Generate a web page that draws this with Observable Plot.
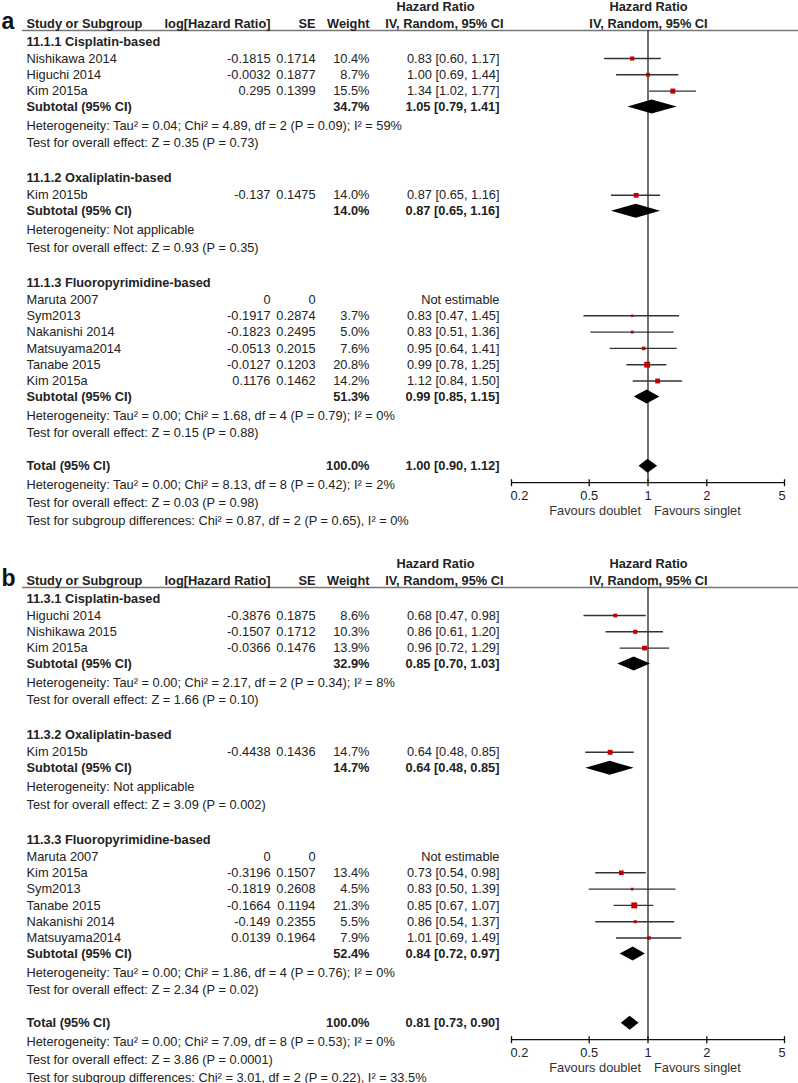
<!DOCTYPE html>
<html><head><meta charset="utf-8">
<script src="https://cdn.jsdelivr.net/npm/d3@7"></script>
<script src="https://cdn.jsdelivr.net/npm/@observablehq/plot@0.6"></script>
<style>body{margin:0;background:#fff}#c svg{display:block}</style>
</head><body><div id="c"></div>
<script>
// ---------- Panel a ----------
const a_groups = ["11.1.1 Cisplatin-based", "11.1.2 Oxaliplatin-based", "11.1.3 Fluoropyrimidine-based"];
const a_study  = ["Nishikawa 2014", "Higuchi 2014", "Kim 2015a", "Kim 2015b", "Maruta 2007", "Sym2013", "Nakanishi 2014", "Matsuyama2014", "Tanabe 2015", "Kim 2015a"];
const a_group  = [0, 0, 0, 1, 2, 2, 2, 2, 2, 2];
const a_loghr  = [-0.1815, -0.0032, 0.295, -0.137, 0, -0.1917, -0.1823, -0.0513, -0.0127, 0.1176];
const a_se     = [0.1714, 0.1877, 0.1399, 0.1475, 0, 0.2874, 0.2495, 0.2015, 0.1203, 0.1462];
const a_weight = [10.4, 8.7, 15.5, 14.0, null, 3.7, 5.0, 7.6, 20.8, 14.2];
const a_hr     = [0.83, 1.00, 1.34, 0.87, null, 0.83, 0.83, 0.95, 0.99, 1.12];
const a_lo     = [0.60, 0.69, 1.02, 0.65, null, 0.47, 0.51, 0.64, 0.78, 0.84];
const a_hi     = [1.17, 1.44, 1.77, 1.16, null, 1.45, 1.36, 1.41, 1.25, 1.50];
const a_subWeight = [34.7, 14.0, 51.3];
const a_subHr     = [1.05, 0.87, 0.99];
const a_subLo     = [0.79, 0.65, 0.85];
const a_subHi     = [1.41, 1.16, 1.15];
const a_het  = ["Heterogeneity: Tau² = 0.04; Chi² = 4.89, df = 2 (P = 0.09); I² = 59%",
                "Heterogeneity: Not applicable",
                "Heterogeneity: Tau² = 0.00; Chi² = 1.68, df = 4 (P = 0.79); I² = 0%"];
const a_test = ["Test for overall effect: Z = 0.35 (P = 0.73)",
                "Test for overall effect: Z = 0.93 (P = 0.35)",
                "Test for overall effect: Z = 0.15 (P = 0.88)"];
const a_total  = [100.0, 1.00, 0.90, 1.12]; // weight, HR, lower, upper
const a_footer = ["Heterogeneity: Tau² = 0.00; Chi² = 8.13, df = 8 (P = 0.42); I² = 2%",
                  "Test for overall effect: Z = 0.03 (P = 0.98)",
                  "Test for subgroup differences: Chi² = 0.87, df = 2 (P = 0.65), I² = 0%"];

// ---------- Panel b ----------
const b_groups = ["11.3.1 Cisplatin-based", "11.3.2 Oxaliplatin-based", "11.3.3 Fluoropyrimidine-based"];
const b_study  = ["Higuchi 2014", "Nishikawa 2015", "Kim 2015a", "Kim 2015b", "Maruta 2007", "Kim 2015a", "Sym2013", "Tanabe 2015", "Nakanishi 2014", "Matsuyama2014"];
const b_group  = [0, 0, 0, 1, 2, 2, 2, 2, 2, 2];
const b_loghr  = [-0.3876, -0.1507, -0.0366, -0.4438, 0, -0.3196, -0.1819, -0.1664, -0.149, 0.0139];
const b_se     = [0.1875, 0.1712, 0.1476, 0.1436, 0, 0.1507, 0.2608, 0.1194, 0.2355, 0.1964];
const b_weight = [8.6, 10.3, 13.9, 14.7, null, 13.4, 4.5, 21.3, 5.5, 7.9];
const b_hr     = [0.68, 0.86, 0.96, 0.64, null, 0.73, 0.83, 0.85, 0.86, 1.01];
const b_lo     = [0.47, 0.61, 0.72, 0.48, null, 0.54, 0.50, 0.67, 0.54, 0.69];
const b_hi     = [0.98, 1.20, 1.29, 0.85, null, 0.98, 1.39, 1.07, 1.37, 1.49];
const b_subWeight = [32.9, 14.7, 52.4];
const b_subHr     = [0.85, 0.64, 0.84];
const b_subLo     = [0.70, 0.48, 0.72];
const b_subHi     = [1.03, 0.85, 0.97];
const b_het  = ["Heterogeneity: Tau² = 0.00; Chi² = 2.17, df = 2 (P = 0.34); I² = 8%",
                "Heterogeneity: Not applicable",
                "Heterogeneity: Tau² = 0.00; Chi² = 1.86, df = 4 (P = 0.76); I² = 0%"];
const b_test = ["Test for overall effect: Z = 1.66 (P = 0.10)",
                "Test for overall effect: Z = 3.09 (P = 0.002)",
                "Test for overall effect: Z = 2.34 (P = 0.02)"];
const b_total  = [100.0, 0.81, 0.73, 0.90];
const b_footer = ["Heterogeneity: Tau² = 0.00; Chi² = 7.09, df = 8 (P = 0.53); I² = 0%",
                  "Test for overall effect: Z = 3.86 (P = 0.0001)",
                  "Test for subgroup differences: Chi² = 3.01, df = 2 (P = 0.22), I² = 33.5%"];

// ---------- shared labels ----------
const colHeaders = ["Study or Subgroup", "log[Hazard Ratio]", "SE", "Weight", "IV, Random, 95% CI"];
const hrHeader = "Hazard Ratio";
const xTicks = [0.2, 0.5, 1, 2, 5];
const favours = ["Favours doublet", "Favours singlet"];
const subtotalLabel = "Subtotal (95% CI)";
const totalLabel = "Total (95% CI)";
const notEstimable = "Not estimable";

const FONT = "'Liberation Sans', Arial, Helvetica, sans-serif";
const FS = 12.8;
const INK = "#222";
const ML = 22;

const COLS = {
  label: {px: 1, anchor: "start"},
  name: {px: 26, anchor: "start"},
  loghr: {px: 270, anchor: "end"},
  se: {px: 315, anchor: "end"},
  weight: {px: 369, anchor: "end"},
  ci: {px: 499, anchor: "end"},
  cihead: {px: 503, anchor: "end"},
  hrhead: {px: 435, anchor: "middle"},
  plothead: {px: 648, anchor: "middle"}
};

const f2 = v => v.toFixed(2);
const ciText = (h, l, u) => `${f2(h)} [${f2(l)}, ${f2(u)}]`;

function panel(label, D, height) {
  const T = [];
  const add = (col, t, y, b = false) => T.push({col, t, y, b});
  const Y_H1 = 6, Y_H2 = 23, Y_RULE = 30;
  add("hrhead", hrHeader, Y_H1, true);
  add("plothead", hrHeader, Y_H1, true);
  add("name", colHeaders[0], Y_H2, true);
  add("loghr", colHeaders[1], Y_H2, true);
  add("se", colHeaders[2], Y_H2, true);
  add("weight", colHeaders[3], Y_H2, true);
  add("cihead", colHeaders[4], Y_H2, true);
  add("plothead", colHeaders[4], Y_H2, true);

  const studies = [], summaries = [];
  let y = 41;
  D.groups.forEach((g, gi) => {
    add("name", g, y, true);
    y += 17;
    let first = true;
    D.study.forEach((s, i) => {
      if (D.group[i] !== gi) return;
      if (!first) y += 16.3;
      first = false;
      add("name", s, y);
      add("loghr", String(D.loghr[i]), y);
      add("se", String(D.se[i]), y);
      if (D.weight[i] != null) {
        add("weight", D.weight[i].toFixed(1) + "%", y);
        add("ci", ciText(D.hr[i], D.lo[i], D.hi[i]), y);
        studies.push({y, hr: D.hr[i], lo: D.lo[i], hi: D.hi[i], w: D.weight[i]});
      } else {
        add("ci", notEstimable, y);
      }
    });
    y += 16;
    add("name", subtotalLabel, y, true);
    add("weight", D.subWeight[gi].toFixed(1) + "%", y, true);
    add("ci", ciText(D.subHr[gi], D.subLo[gi], D.subHi[gi]), y, true);
    summaries.push({id: gi, y, hr: D.subHr[gi], lo: D.subLo[gi], hi: D.subHi[gi]});
    y += 18.5;
    add("name", D.het[gi], y);
    y += 17.7;
    add("name", D.test[gi], y);
    if (gi < D.groups.length - 1) y += 35;
  });
  y += 33;
  add("name", totalLabel, y, true);
  add("weight", D.total[0].toFixed(1) + "%", y, true);
  add("ci", ciText(D.total[1], D.total[2], D.total[3]), y, true);
  summaries.push({id: 99, y, hr: D.total[1], lo: D.total[2], hi: D.total[3]});
  const axisY = y + 16.5;
  D.footer.forEach(t => { y += 18.2; add("name", t, y); });

  const H = 7;
  const diamonds = summaries.flatMap(d => [
    {id: d.id, x: d.lo, y1: d.y, y2: d.y},
    {id: d.id, x: d.hr, y1: d.y - H, y2: d.y + H},
    {id: d.id, x: d.hi, y1: d.y, y2: d.y}
  ]);

  const textMarks = [];
  for (const [key, c] of Object.entries(COLS)) {
    for (const b of [false, true]) {
      const rows = T.filter(d => d.col === key && d.b === b);
      if (!rows.length) continue;
      textMarks.push(Plot.text(rows, {
        y: "y", text: "t", frameAnchor: "left", dx: c.px - ML,
        textAnchor: c.anchor, fontWeight: b ? "bold" : "normal",
        fontSize: FS, fill: INK, fontFamily: FONT
      }));
    }
  }
  textMarks.push(Plot.text([{t: label, y: 21}], {
    y: "y", text: "t", frameAnchor: "left", dx: COLS.label.px - ML, textAnchor: "start",
    fontWeight: "bold", fontSize: 23, fill: "#111", fontFamily: FONT
  }));

  const tickLab = (filter, anchor, dx) => Plot.text(xTicks, {
    filter, x: d => d, y: () => axisY + 13.5, text: d => String(d),
    textAnchor: anchor, dx, fontSize: FS, fill: INK, fontFamily: FONT
  });

  return Plot.plot({
    width: 798, height,
    marginLeft: ML, marginRight: 0, marginTop: 0, marginBottom: 0,
    x: {type: "log", domain: [xTicks[0], xTicks[xTicks.length - 1]], range: [511, 784], axis: null},
    y: {type: "identity", axis: null},
    r: {type: "sqrt", domain: [0, 25], range: [0, 3.6]},
    style: {fontFamily: FONT, fontSize: FS + "px", color: INK, background: "#fff", overflow: "visible"},
    marks: [
      Plot.ruleY([Y_RULE], {stroke: "#777", strokeWidth: 1.7}),
      Plot.ruleX([1], {y1: Y_RULE, y2: axisY, stroke: "#111", strokeWidth: 1.2}),
      Plot.ruleY(studies, {y: "y", x1: "lo", x2: "hi", stroke: "#333", strokeWidth: 1.4}),
      Plot.dot(studies, {x: "hr", y: "y", r: "w", symbol: "square", fill: "#c00000", stroke: "none"}),
      Plot.area(diamonds, {x1: "x", y1: "y1", y2: "y2", z: "id", fill: "#000", curve: "linear"}),
      Plot.ruleY([axisY], {x1: xTicks[0], x2: xTicks[xTicks.length - 1], stroke: "#111", strokeWidth: 1.3}),
      Plot.ruleX(xTicks, {x: d => d, y1: axisY - 3, y2: axisY + 4, stroke: "#111", strokeWidth: 1.3}),
      tickLab((d, i) => i === 0, "start", -1),
      tickLab((d, i) => i > 0 && i < xTicks.length - 1, "middle", 0),
      tickLab((d, i) => i === xTicks.length - 1, "end", 1),
      Plot.text([favours[0]], {x: () => 1, y: () => axisY + 28.5, text: d => d, textAnchor: "end", dx: -7, fontSize: FS, fill: "#333", fontFamily: FONT}),
      Plot.text([favours[1]], {x: () => 1, y: () => axisY + 28.5, text: d => d, textAnchor: "start", dx: 6, fontSize: FS, fill: "#333", fontFamily: FONT}),
      ...textMarks
    ]
  });
}

const A = {groups: a_groups, study: a_study, group: a_group, loghr: a_loghr, se: a_se, weight: a_weight,
  hr: a_hr, lo: a_lo, hi: a_hi, subWeight: a_subWeight, subHr: a_subHr, subLo: a_subLo, subHi: a_subHi,
  het: a_het, test: a_test, total: a_total, footer: a_footer};
const B = {groups: b_groups, study: b_study, group: b_group, loghr: b_loghr, se: b_se, weight: b_weight,
  hr: b_hr, lo: b_lo, hi: b_hi, subWeight: b_subWeight, subHr: b_subHr, subLo: b_subLo, subHi: b_subHi,
  het: b_het, test: b_test, total: b_total, footer: b_footer};

const c = document.getElementById("c");
c.appendChild(panel("a", A, 557));
c.appendChild(panel("b", B, 526));
</script></body></html>
